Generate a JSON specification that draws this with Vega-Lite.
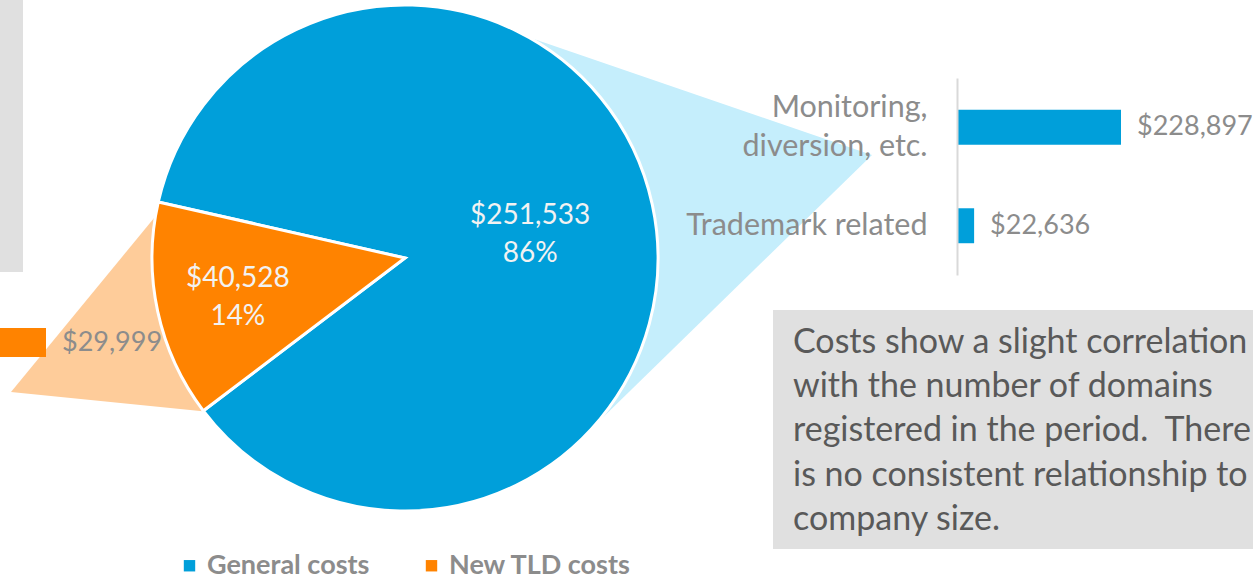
{
  "$schema": "https://vega.github.io/schema/vega-lite/v6.json",
  "width": 810,
  "height": 516,
  "autosize": "none",
  "padding": {"left": 0, "top": 0, "right": 443, "bottom": 63},
  "background": "white",
  "config": {"view": {"stroke": null}, "font": "Lato"},
  "resolve": {"scale": {"x": "independent", "y": "independent"}},
  "layer": [
    {
      "data": {"values": [{"panel": "left note"}]},
      "mark": {"type": "rect", "x": 0, "x2": 23, "y": -2, "y2": 272, "color": "#e0e0e0"}
    },
    {
      "data": {"values": [{"link": "General costs breakdown"}]},
      "mark": {"type": "point", "shape": "M108.5,-226L467,-103L185,172Z", "size": 4, "filled": true, "fill": "#c5eefc", "opacity": 1, "strokeWidth": 0}
    },
    {
      "data": {"values": [{"link": "New TLD costs breakdown"}]},
      "mark": {"type": "point", "shape": "M-394,134L-246,-46L-195,154Z", "size": 4, "filled": true, "fill": "#fecc9a", "opacity": 1, "strokeWidth": 0}
    },
    {
      "data": {"name": "pie"},
      "mark": {"type": "arc", "radius": 253, "stroke": "white", "strokeWidth": 3},
      "encoding": {
        "theta": {"field": "value", "type": "quantitative", "stack": true, "scale": {"range": [4.9358, 11.2190]}},
        "order": {"field": "value", "sort": "descending"},
        "color": {
          "field": "category", "type": "nominal",
          "scale": {"domain": ["General costs", "New TLD costs"], "range": ["#009fda", "#ff8300"]},
          "legend": {
            "orient": "none", "legendX": 176, "legendY": 552, "direction": "horizontal", "title": null,
            "symbolType": "square", "symbolSize": 130, "symbolStrokeWidth": 0,
            "labelFontSize": 27, "labelFontWeight": "bold", "labelColor": "#8c8c8c", "labelFont": "Lato",
            "labelOffset": 4, "labelLimit": 400, "columnPadding": 48, "padding": 0
          }
        }
      }
    },
    {
      "data": {"name": "pie"},
      "mark": {"type": "text", "fontSize": 28, "color": "#f2f2f2", "align": "center", "baseline": "middle", "dy": -15},
      "encoding": {
        "theta": {"field": "value", "type": "quantitative", "stack": true},
        "order": {"field": "value", "sort": "descending"},
        "radius": {"field": "value", "type": "quantitative", "scale": {"type": "linear", "zero": false, "domain": [40528, 251533], "range": [171, 128]}},
        "text": {"field": "value", "type": "quantitative", "format": "$,d"}
      }
    },
    {
      "data": {"name": "pie"},
      "mark": {"type": "text", "fontSize": 28, "color": "#f2f2f2", "align": "center", "baseline": "middle", "dy": 23},
      "encoding": {
        "theta": {"field": "value", "type": "quantitative", "stack": true},
        "order": {"field": "value", "sort": "descending"},
        "radius": {"field": "value", "type": "quantitative", "scale": {"type": "linear", "zero": false, "domain": [40528, 251533], "range": [171, 128]}},
        "text": {"field": "share", "type": "quantitative", "format": ".0%"}
      }
    },
    {
      "data": {"values": [{"item": "New TLD costs item", "cost": 29999}]},
      "encoding": {
        "x": {"field": "cost", "type": "quantitative", "scale": {"domain": [0, 29999], "range": [-100, 46]}, "axis": null},
        "y": {"field": "item", "type": "nominal", "scale": {"range": [328, 357], "paddingInner": 0, "paddingOuter": 0}, "axis": null}
      },
      "layer": [
        {"mark": {"type": "bar", "color": "#ff8300"}},
        {"mark": {"type": "text", "align": "left", "baseline": "middle", "dx": 16, "fontSize": 27, "color": "#8c8c8c"},
         "encoding": {"text": {"field": "cost", "type": "quantitative", "format": "$,d"}}}
      ]
    },
    {
      "data": {"values": [
        {"item": "Monitoring, diversion, etc.", "cost": 228897},
        {"item": "Trademark related", "cost": 22636}
      ]},
      "encoding": {
        "x": {"field": "cost", "type": "quantitative", "scale": {"domain": [0, 228897], "range": [958, 1121]}, "axis": null},
        "y": {
          "field": "item", "type": "nominal", "sort": null,
          "scale": {"range": [78, 275], "paddingInner": 0.645, "paddingOuter": 0.3225},
          "axis": {
            "orient": "left", "offset": -957, "title": null, "grid": false, "ticks": false,
            "domain": true, "domainColor": "#d9d9d9", "domainWidth": 2,
            "labelFontSize": 30.5, "labelColor": "#8c8c8c", "labelPadding": 30, "labelLimit": 500,
            "labelLineHeight": 39, "zindex": 1,
            "labelOffset": {"condition": {"test": "datum.value == 'Monitoring, diversion, etc.'", "value": -19.5}, "value": 0},
            "labelExpr": "datum.label == 'Monitoring, diversion, etc.' ? ['Monitoring,', 'diversion, etc.'] : datum.label"
          }
        }
      },
      "layer": [
        {"mark": {"type": "bar", "color": "#009fda"}},
        {"mark": {"type": "text", "align": "left", "baseline": "middle", "dx": 16, "fontSize": 27, "color": "#8c8c8c"},
         "encoding": {"text": {"field": "cost", "type": "quantitative", "format": "$,d"}}}
      ]
    },
    {
      "data": {"values": [{"note": "Costs show a slight correlation\nwith the number of domains\nregistered in the period.\u00a0 There\nis no consistent relationship to\ncompany size."}]},
      "layer": [
        {"mark": {"type": "rect", "x": 773, "x2": 1300, "y": 310, "y2": 549, "color": "#e0e0e0"}},
        {"mark": {"type": "text", "x": 793, "y": 353, "align": "left", "baseline": "alphabetic", "fontSize": 34, "lineHeight": 44.2, "lineBreak": "\n", "color": "#595959"},
         "encoding": {"text": {"field": "note", "type": "nominal"}}}
      ]
    }
  ],
  "datasets": {
    "pie": [
      {"category": "General costs", "value": 251533, "share": 0.86},
      {"category": "New TLD costs", "value": 40528, "share": 0.14}
    ]
  }
}
